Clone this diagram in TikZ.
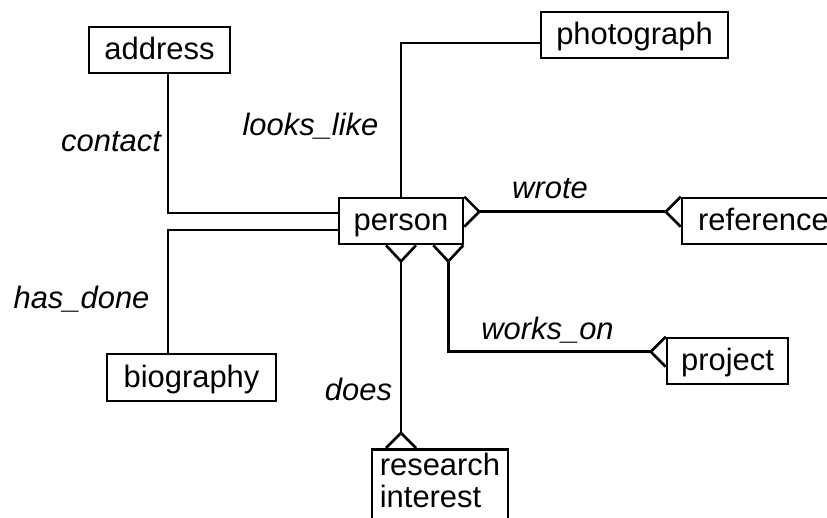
\documentclass[tikz,border=0pt]{standalone}
\usepackage{fontspec}
\setmainfont{Liberation Sans}
\usepackage{tikz}
\usetikzlibrary{positioning}

\begin{document}
\begin{tikzpicture}[x=0.02cm, y=-0.02cm, line width=1.5pt,
        font=\fontsize{17.6}{18.2}\selectfont,
        entity/.style={draw, black, minimum height=0.92cm, inner sep=0pt,
                       text height=0.51cm, text depth=0.13cm},
        rel/.style={font=\fontsize{17.6}{18.2}\selectfont\itshape, anchor=base, inner sep=0pt}]
        \useasboundingbox (0,0) rectangle (827,517);
        \clip (0,0) rectangle (827,517);
        \node[entity, minimum width=2.82cm] (address) at (159.5,50){address};
        \node[entity, minimum width=3.74cm] (photo) at (634.5,35){photograph};
        \node[entity, minimum width=2.48cm] (person) at (401,221){person};
        \node[entity, minimum width=3.26cm] (reference) at (763.5,221){reference};
        \node[entity, minimum width=3.38cm, minimum height=0.94cm] (bio) at (191.5,377.5){biography};
        \node[entity, minimum width=2.42cm] (project) at (727.5,361){project};
        \node[entity, minimum width=2.72cm, anchor=north, align=left, inner ysep=0.06cm,
              text height=1.1cm, text depth=0.6cm] (research) at (440,448){research\\interest};
        %bends
        \coordinate (ct) at (168,213);
        \coordinate (hd) at (168,230);
        \coordinate (ll) at (401,43);
        %one to one
        \draw (ct |- address.south) -- (ct) -- (ct -| person.west);
        \draw (hd -| person.west) -- (hd) -- (hd |- bio.north);
        \draw (ll |- person.north) -- (ll) -- (ll -| photo.west);
        %many to many
        \draw (person.north east) -- ++(15,15) coordinate (wr1) -- ++(-15,15);
        \draw (reference.north west) -- ++(-15,15) coordinate (wr2) -- ++(15,15);
        \draw (wr1) -- (wr2);
        \draw (person.south) ++(-15,0) -- ++(15,16) coordinate (do1) -- ++(15,-16);
        \draw (do1 |- research.north) ++(-15,0) -- ++(15,-15) coordinate (do2) -- ++(15,15);
        \draw (do1) -- (do2);
        \draw (person.south east) ++(-31,0) -- ++(15,16) coordinate (wo1) -- ++(15,-16);
        \draw (project.north west) -- ++(-15,15) coordinate (wo2) -- ++(15,15);
        \draw (wo1) |- (wo2);
        %labels
        \node[rel] (contact) at (111,151){contact};
        \node[rel] (looks) at (310.5,135){looks\_like};
        \node[rel] (hasdone) at (81.5,308){has\_done};
        \node[rel] (does) at (358.5,400){does};
        \node[rel] (workson) at (547.5,339){works\_on};
        \node[rel] (wrote) at (550,198){wrote};
    \end{tikzpicture}
\end{document}
